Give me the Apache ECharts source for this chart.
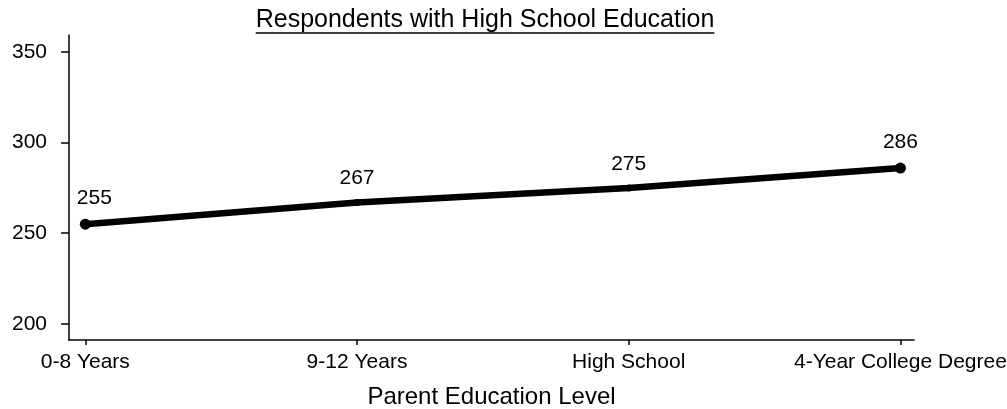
<!DOCTYPE html>
<html>
<head>
<meta charset="utf-8">
<script src="https://cdn.jsdelivr.net/npm/echarts@6/dist/echarts.min.js"></script>
<style>
  html, body { margin: 0; padding: 0; background: #fff; }
  #chart { width: 1007px; height: 409px; }
</style>
</head>
<body>
<div id="chart"></div>
<script>
// chart data
const categories = ['0-8 Years', '9-12 Years', 'High School', '4-Year College Degree'];
const scores = [255, 267, 275, 286];
const yTicks = [200, 250, 300, 350];

const titleText = 'Respondents with High School Education';
const fontFamily = '"Liberation Sans", Arial, Helvetica, sans-serif';
const titleSize = 25;
const labelSize = 21;
const titleCenter = 485;

// width of the title, to draw the underline under it
const measure = document.createElement('canvas').getContext('2d');
measure.font = `${titleSize}px "Liberation Sans"`;
const titleWidth = measure.measureText(titleText).width;

const chart = echarts.init(document.getElementById('chart'));

chart.setOption({
  animation: false,
  backgroundColor: '#fff',
  textStyle: { fontFamily, color: '#000' },
  graphic: [
    {
      type: 'text',
      x: titleCenter,
      y: 20,
      style: {
        text: titleText,
        font: `${titleSize}px "Liberation Sans"`,
        fill: '#000',
        align: 'center',
        verticalAlign: 'middle',
      },
    },
    {
      type: 'line',
      shape: {
        x1: titleCenter - titleWidth / 2,
        y1: 33,
        x2: titleCenter + titleWidth / 2,
        y2: 33,
      },
      style: { stroke: '#000', lineWidth: 1.5 },
    },
  ],
  grid: {
    left: 69,
    right: 93,
    top: 35,
    bottom: 69,
    containLabel: false,
    outerBoundsMode: 'none',
  },
  xAxis: {
    type: 'value',
    min: -0.06,
    max: 3.05,
    name: 'Parent Education Level',
    nameLocation: 'middle',
    nameGap: 45,
    nameTextStyle: { fontFamily, fontSize: 24, color: '#000' },
    axisLine: {
      onZero: false,
      lineStyle: { color: '#000', width: 1.5 },
    },
    axisTick: {
      customValues: categories.map((c, i) => i),
      length: 5,
      lineStyle: { color: '#000', width: 1.5 },
    },
    axisLabel: {
      customValues: categories.map((c, i) => i),
      formatter: (value) => categories[Math.round(value)],
      margin: 12,
      fontFamily,
      fontSize: labelSize,
      color: '#000',
      hideOverlap: false,
    },
    splitLine: { show: false },
  },
  yAxis: {
    type: 'value',
    min: 191,
    max: 359.5,
    axisLine: {
      show: true,
      onZero: false,
      lineStyle: { color: '#000', width: 1.5 },
    },
    axisTick: {
      show: true,
      customValues: yTicks,
      length: 8,
      lineStyle: { color: '#000', width: 1.5 },
    },
    axisLabel: {
      customValues: yTicks,
      margin: 22,
      fontFamily,
      fontSize: labelSize,
      color: '#000',
    },
    splitLine: { show: false },
  },
  series: [
    {
      type: 'line',
      data: scores.map((v, i) => ({
        value: [i, v],
        // first label sits a little right of its point in the original
        label: i === 0 ? { offset: [9, 0] } : undefined,
      })),
      symbol: 'circle',
      symbolSize: (value, params) =>
        params.dataIndex === 0 || params.dataIndex === scores.length - 1 ? 11 : 7,
      lineStyle: { color: '#000', width: 6.5 },
      itemStyle: { color: '#000' },
      label: {
        show: true,
        position: 'top',
        distance: 10,
        formatter: (p) => p.value[1],
        fontFamily,
        fontSize: labelSize,
        color: '#000',
      },
    },
  ],
});
</script>
</body>
</html>
